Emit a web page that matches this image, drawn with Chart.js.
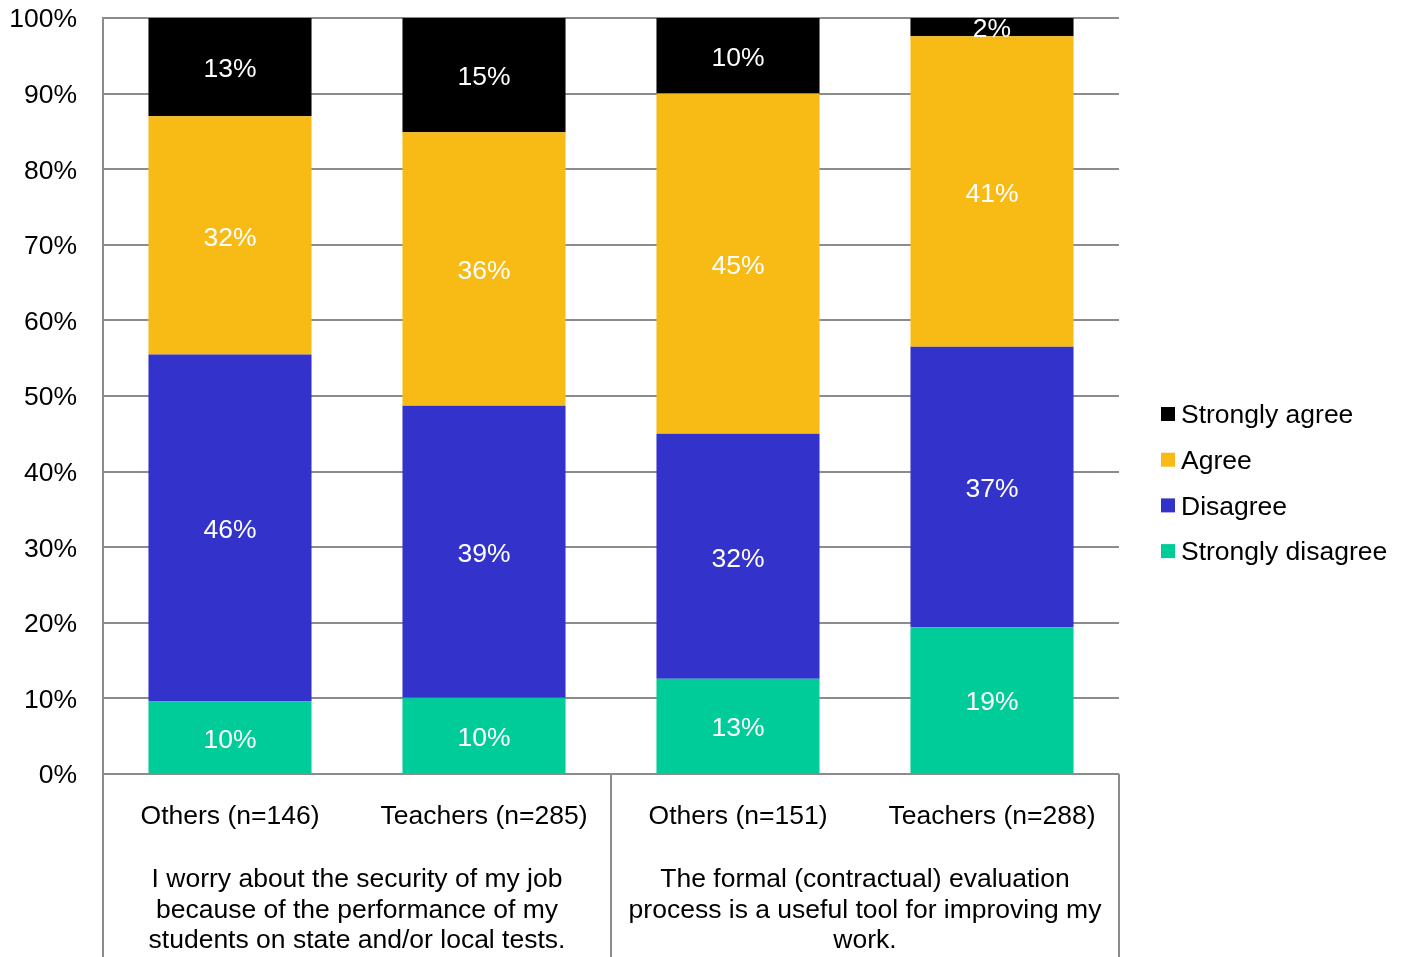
<!DOCTYPE html>
<html>
<head>
<meta charset="utf-8">
<script src="https://cdn.jsdelivr.net/npm/chart.js@4/dist/chart.umd.min.js"></script>
<style>
html,body{margin:0;padding:0;background:#fff;}
#wrap{width:1404px;height:957px;position:relative;}
</style>
</head>
<body>
<div id="wrap"><canvas id="c" width="1404" height="957"></canvas></div>
<script>
const categories = ['Others (n=146)', 'Teachers (n=285)', 'Others (n=151)', 'Teachers (n=288)'];
const groupLabels = [
  ['I worry about the security of my job', 'because of the performance of my', 'students on state and/or local tests.'],
  ['The formal (contractual) evaluation', 'process is a useful tool for improving my', 'work.']
];
const stronglyDisagree = [9.6, 10.1, 12.6, 19.4];
const disagree = [45.9, 38.6, 32.4, 37.1];
const agree = [31.5, 36.2, 45.0, 41.1];
const stronglyAgree = [13.0, 15.1, 10.0, 2.4];
const yTicks = [0, 10, 20, 30, 40, 50, 60, 70, 80, 90, 100];

const FONT = '"Liberation Sans", Arial, sans-serif';
const FS = 26.5;
const GRID = '#8c8c8c';

const dataLabels = {
  id: 'dataLabels',
  afterDatasetsDraw(chart) {
    const ctx = chart.ctx;
    ctx.save();
    ctx.font = FS + 'px ' + FONT;
    ctx.fillStyle = '#ffffff';
    ctx.textAlign = 'center';
    ctx.textBaseline = 'middle';
    chart.data.datasets.forEach((ds, di) => {
      const meta = chart.getDatasetMeta(di);
      meta.data.forEach((el, i) => {
        const v = ds.data[i];
        const y = (el.y + el.base) / 2;
        ctx.fillText(Math.round(v) + '%', el.x, y + 3);
      });
    });
    ctx.restore();
  }
};

const axisExtras = {
  id: 'axisExtras',
  afterDraw(chart) {
    const ctx = chart.ctx;
    const xs = chart.scales.x;
    const area = chart.chartArea;
    const step = xs.getPixelForValue(1) - xs.getPixelForValue(0);
    const bottom = chart.height;
    ctx.save();
    ctx.strokeStyle = GRID;
    ctx.lineWidth = 2;
    const seps = [0, 2, 4].map(i => xs.getPixelForValue(i) - step / 2);
    seps.forEach(x => {
      ctx.beginPath();
      ctx.moveTo(Math.round(x), area.bottom);
      ctx.lineTo(Math.round(x), bottom);
      ctx.stroke();
    });
    ctx.fillStyle = '#000';
    ctx.font = FS + 'px ' + FONT;
    ctx.textAlign = 'center';
    ctx.textBaseline = 'middle';
    categories.forEach((c, i) => {
      ctx.fillText(c, xs.getPixelForValue(i), area.bottom + 43);
    });
    groupLabels.forEach((lines, g) => {
      const cx = (xs.getPixelForValue(g * 2) + xs.getPixelForValue(g * 2 + 1)) / 2;
      lines.forEach((t, k) => {
        ctx.fillText(t, cx, area.bottom + 106 + k * 30.5);
      });
    });
    const items = [
      ['Strongly agree', '#000000'],
      ['Agree', '#F8BB16'],
      ['Disagree', '#3333CC'],
      ['Strongly disagree', '#00CC99']
    ];
    ctx.textAlign = 'left';
    items.forEach((it, k) => {
      const cy = 414 + k * 45.7;
      ctx.fillStyle = it[1];
      ctx.fillRect(1161, cy - 7, 14, 14);
      ctx.fillStyle = '#000';
      ctx.fillText(it[0], 1181, cy + 2);
    });
    ctx.restore();
  }
};

new Chart(document.getElementById('c'), {
  type: 'bar',
  data: {
    labels: categories,
    datasets: [
      { label: 'Strongly disagree', data: stronglyDisagree, backgroundColor: '#00CC99' },
      { label: 'Disagree', data: disagree, backgroundColor: '#3333CC' },
      { label: 'Agree', data: agree, backgroundColor: '#F8BB16' },
      { label: 'Strongly agree', data: stronglyAgree, backgroundColor: '#000000' }
    ]
  },
  options: {
    responsive: false,
    animation: false,
    devicePixelRatio: 1,
    layout: { padding: { top: 18, right: 285, left: 0, bottom: 0 } },
    datasets: { bar: { categoryPercentage: 1, barPercentage: 0.642, borderWidth: 0 } },
    plugins: { legend: { display: false }, tooltip: { enabled: false } },
    scales: {
      x: {
        stacked: true,
        grid: { display: false },
        border: { display: false },
        ticks: { display: false },
        afterFit(s) { s.height = 183; s.paddingLeft = 0; s.paddingRight = 0; }
      },
      y: {
        stacked: true,
        min: 0,
        max: 100,
        afterBuildTicks(s) { s.ticks = yTicks.map(v => ({ value: v })); },
        ticks: {
          padding: 26,
          labelOffset: 2,
          color: '#000',
          font: { family: FONT, size: FS },
          callback: v => v + '%'
        },
        grid: { color: GRID, lineWidth: 2, drawTicks: false },
        border: { display: true, color: GRID, width: 2 },
        afterFit(s) { s.width = 103; s.paddingTop = 0; s.paddingBottom = 0; }
      }
    }
  },
  plugins: [dataLabels, axisExtras]
});
</script>
</body>
</html>
